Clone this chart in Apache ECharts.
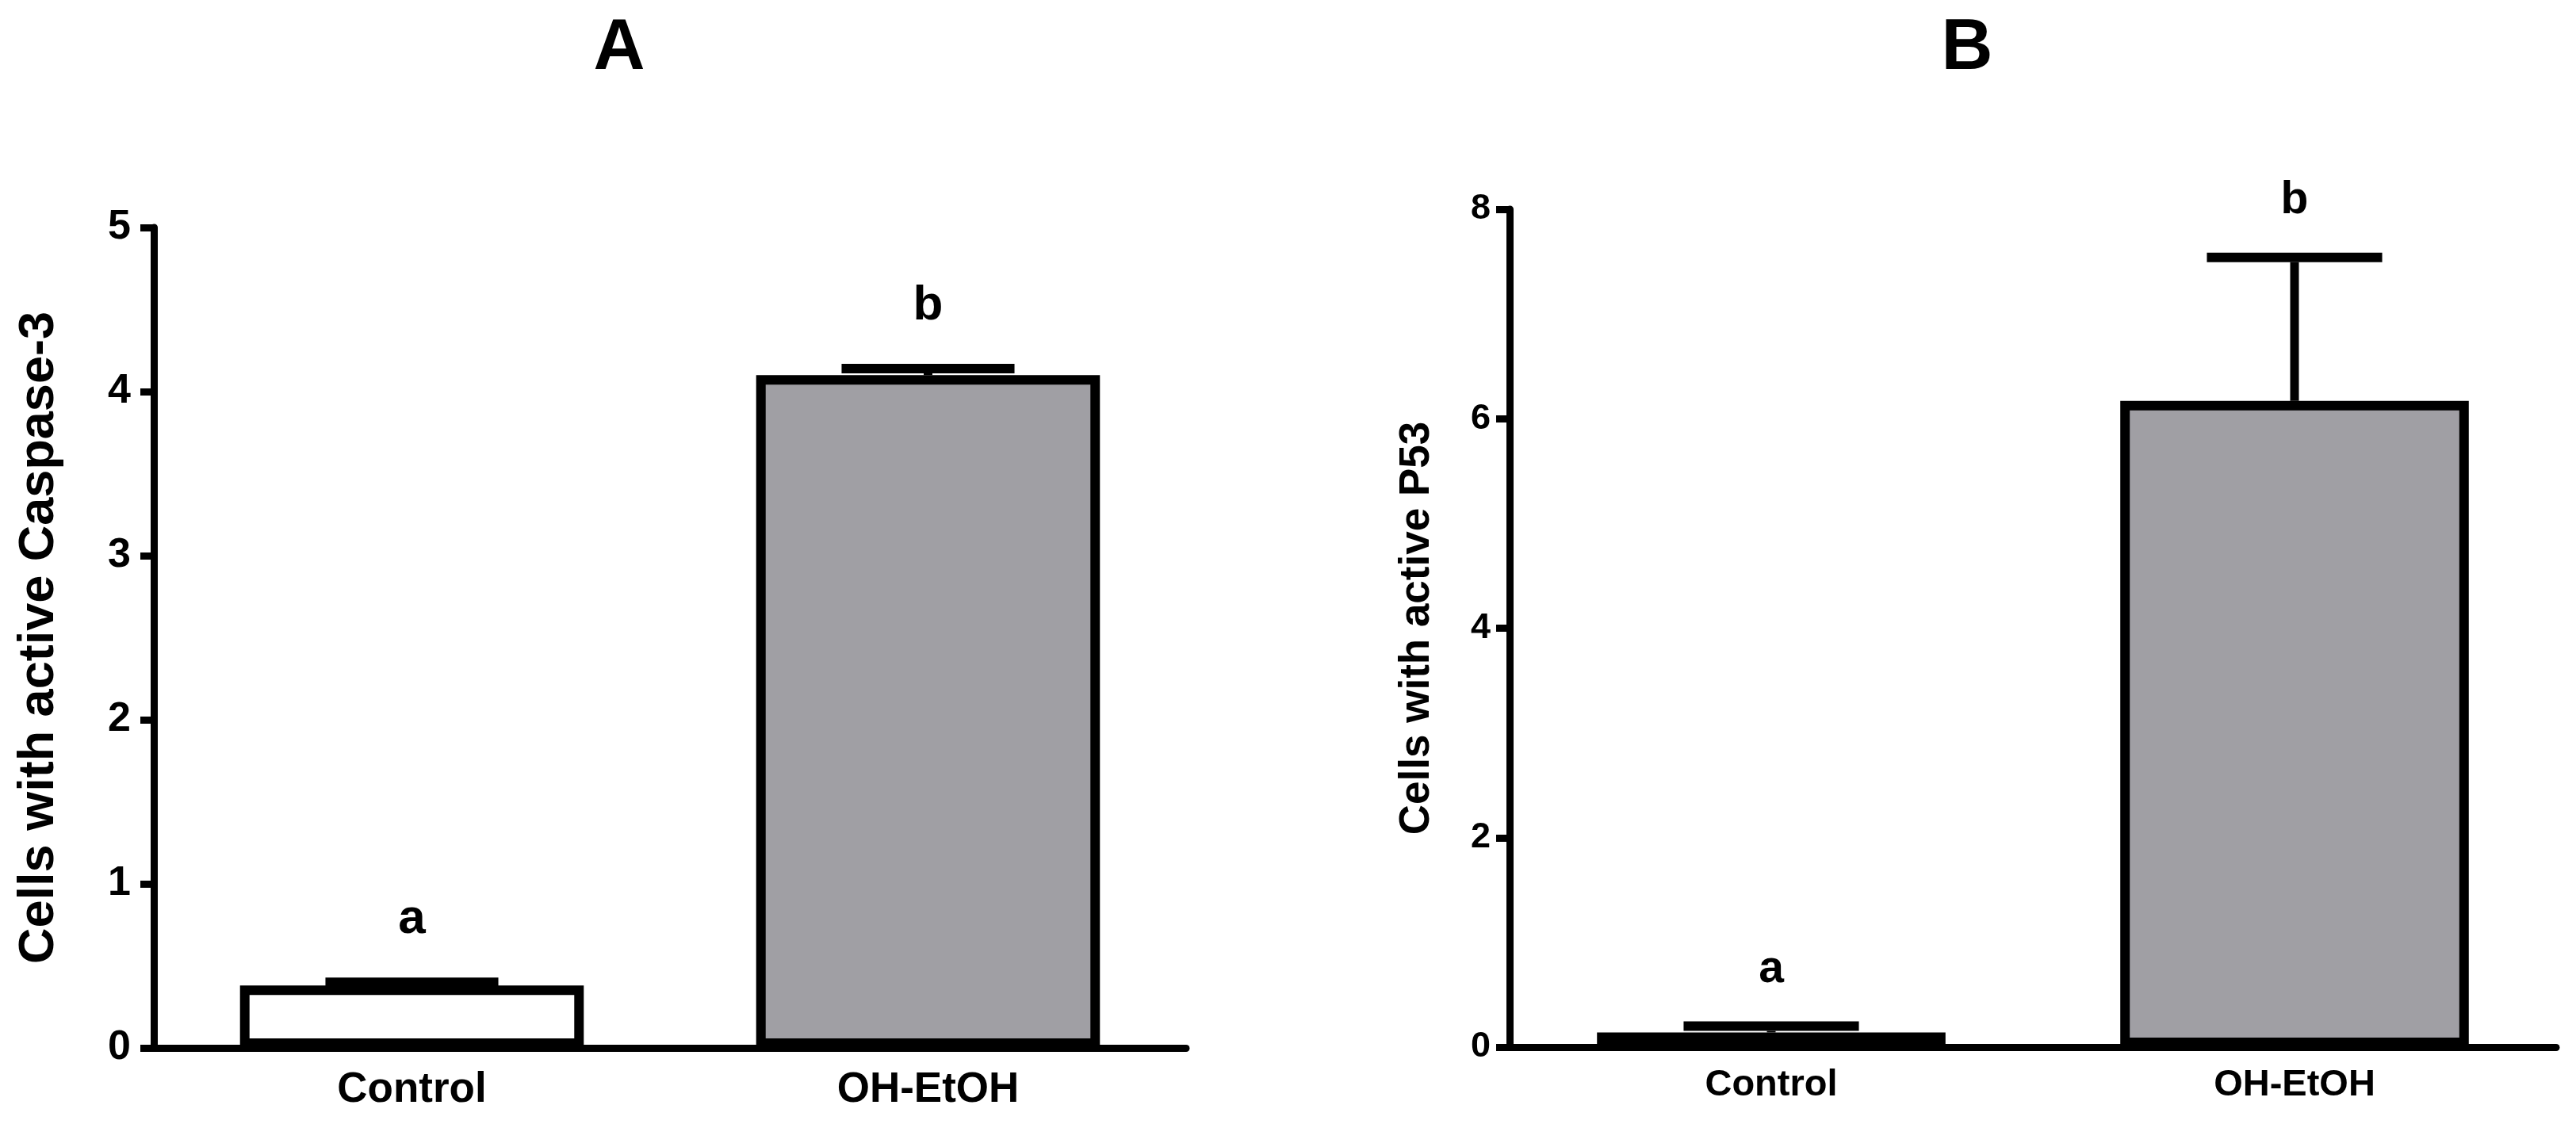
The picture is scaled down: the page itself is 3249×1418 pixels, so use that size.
<!DOCTYPE html>
<html>
<head>
<meta charset="utf-8">
<script src="https://cdn.jsdelivr.net/npm/echarts@6/dist/echarts.min.js"></script>
<style>
html,body{margin:0;padding:0;background:#fff;}
#chart{width:3249px;height:1418px;}
</style>
</head>
<body>
<div id="chart"></div>
<script>
// ---- data ----
const categories = ['Control', 'OH-EtOH'];
const meansA = [0.38, 4.10];
const errsA = [0.02, 0.04];
const lettersA = ['a', 'b'];
const meansB = [0.14, 6.17];
const errsB = [0.06, 1.37];
const lettersB = ['a', 'b'];
const ticksA = { min: 0, max: 5, interval: 1 };
const ticksB = { min: 0, max: 8, interval: 2 };
const titleA = 'Cells with active Caspase-3';
const titleB = 'Cells with active P53';

// ---- style ----
const FONT = "'Liberation Sans', Arial, sans-serif";
const fills = ['#ffffff', '#a09fa4'];
const chart = echarts.init(document.getElementById('chart'));

function barData(means) {
  return means.map((v, i) => ({ value: v, itemStyle: { color: fills[i] } }));
}
function errData(means, errs) {
  return means.map((v, i) => [i, v, errs[i]]);
}
function errRender(letters, fontSize, labelGap) {
  return function (params, api) {
    const ci = api.value(0), m = api.value(1), e = api.value(2);
    const base = api.coord([ci, m]);
    const top = api.coord([ci, m + e]);
    const band = api.size([1, 0])[0];
    const hw = band * 0.335 / 2;
    return {
      type: 'group',
      children: [
        { type: 'line', shape: { x1: base[0], y1: base[1], x2: top[0], y2: top[1] + 6 },
          style: { stroke: '#000', lineWidth: 11 } },
        { type: 'line', shape: { x1: top[0] - hw, y1: top[1], x2: top[0] + hw, y2: top[1] },
          style: { stroke: '#000', lineWidth: 12, lineCap: 'butt' } },
        { type: 'text', x: top[0], y: top[1] - labelGap,
          style: { text: letters[params.dataIndex], fill: '#000', font: 'bold ' + fontSize + 'px ' + FONT,
                   align: 'center', verticalAlign: 'middle' } }
      ]
    };
  };
}
function xAxisCfg(gridIndex, fontSize, margin) {
  return {
    type: 'category', gridIndex, data: categories, boundaryGap: true,
    axisLine: { lineStyle: { color: '#000', width: 9 } },
    axisTick: { alignWithLabel: true, length: 18, lineStyle: { color: '#000', width: 9 } },
    axisLabel: { color: '#000', fontFamily: FONT, fontWeight: 'bold', fontSize, margin },
    splitLine: { show: false }
  };
}
function yAxisCfg(gridIndex, ticks, name, nameSize, nameGap, labelSize, labelMargin) {
  return {
    type: 'value', gridIndex, min: ticks.min, max: ticks.max, interval: ticks.interval,
    name, nameLocation: 'middle', nameGap,
    nameTextStyle: { color: '#000', fontFamily: FONT, fontWeight: 'bold', fontSize: nameSize },
    axisLine: { show: true, lineStyle: { color: '#000', width: 9 } },
    axisTick: { show: true, length: 17, lineStyle: { color: '#000', width: 9 } },
    axisLabel: { color: '#000', fontFamily: FONT, fontWeight: 'bold', fontSize: labelSize, margin: labelMargin },
    splitLine: { show: false }
  };
}

const option = {
  backgroundColor: '#fff',
  animation: false,
  title: [
    { text: 'A', left: 781, top: 17, padding: 0, textAlign: 'center',
      textStyle: { fontFamily: FONT, fontWeight: 'bold', fontSize: 90, color: '#000' } },
    { text: 'B', left: 2481, top: 17, padding: 0, textAlign: 'center',
      textStyle: { fontFamily: FONT, fontWeight: 'bold', fontSize: 90, color: '#000' } }
  ],
  grid: [
    { left: 194, top: 287, width: 1302, height: 1035, containLabel: false, outerBoundsMode: 'none' },
    { left: 1904, top: 264, width: 1320, height: 1057, containLabel: false, outerBoundsMode: 'none' }
  ],
  xAxis: [xAxisCfg(0, 53, 27), xAxisCfg(1, 47, 25)],
  yAxis: [
    yAxisCfg(0, ticksA, titleA, 63, 113, 52, 29),
    yAxisCfg(1, ticksB, titleB, 53, 90, 45, 24)
  ],
  series: [
    { type: 'bar', xAxisIndex: 0, yAxisIndex: 0, barWidth: '66.6%', data: barData(meansA),
      itemStyle: { borderColor: '#000', borderWidth: 12 } },
    { type: 'custom', xAxisIndex: 0, yAxisIndex: 0, data: errData(meansA, errsA),
      renderItem: errRender(lettersA, 62, 79), z: 5 },
    { type: 'bar', xAxisIndex: 1, yAxisIndex: 1, barWidth: '66.6%', data: barData(meansB),
      itemStyle: { borderColor: '#000', borderWidth: 12 } },
    { type: 'custom', xAxisIndex: 1, yAxisIndex: 1, data: errData(meansB, errsB),
      renderItem: errRender(lettersB, 57, 71), z: 5 }
  ]
};
chart.setOption(option);
</script>
</body>
</html>
